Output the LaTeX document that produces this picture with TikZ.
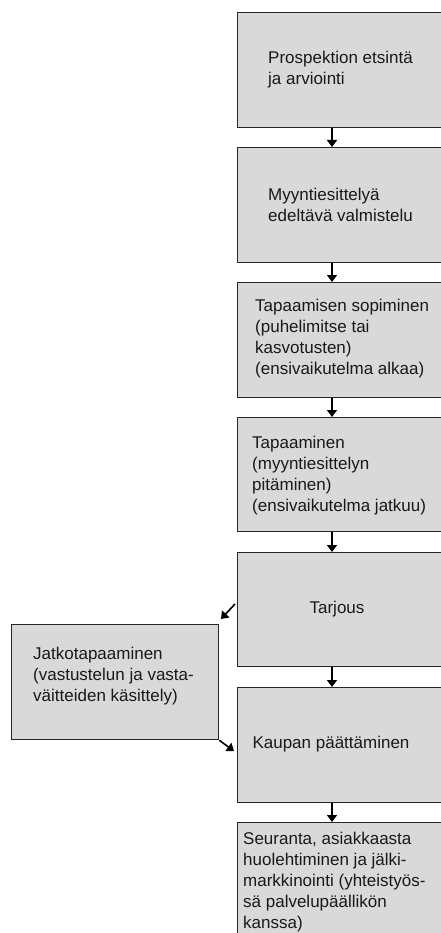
\documentclass[tikz,border=0pt]{standalone}
\usepackage{fontspec}
\setmainfont{Liberation Sans}
\usetikzlibrary{arrows.meta}
\definecolor{boxgray}{HTML}{D9D9D9}
\begin{document}
\begin{tikzpicture}[x=1pt,y=-1pt,
  box/.style={draw=black!85,line width=1.3pt,fill=boxgray,rectangle,inner sep=0pt,anchor=north west},
  txt/.style={align=left,anchor=west,inner sep=0pt,text=black!90,font=\fontsize{17}{21}\selectfont},
  arr/.style={line width=1.6pt,-{Triangle[length=7pt,width=10pt]}}]
\useasboundingbox (0,0) rectangle (441,933);
% boxes
\node[box,minimum width=230pt,minimum height=115pt] (b1) at (237,12) {};
\node[box,minimum width=230pt,minimum height=115pt] (b2) at (237,147) {};
\node[box,minimum width=230pt,minimum height=115pt] (b3) at (237,282) {};
\node[box,minimum width=230pt,minimum height=114pt] (b4) at (237,417) {};
\node[box,minimum width=230pt,minimum height=114pt] (b5) at (237,552) {};
\node[box,minimum width=230pt,minimum height=115pt] (b6) at (237,687) {};
\node[box,minimum width=230pt,minimum height=130pt] (b7) at (237,822) {};
\node[box,minimum width=207pt,minimum height=115pt] (bl) at (11,624) {};
% texts
\node[txt] (t1) at (268,70) {Prospektion etsintä\\ja arviointi};
\node[txt] (t2) at (268,205) {Myyntiesittelyä\\edeltävä valmistelu};
\node[txt] (t3) at (255,339) {Tapaamisen sopiminen\\(puhelimitse tai\\kasvotusten)\\(ensivaikutelma alkaa)};
\node[txt] (t4) at (252,476) {Tapaaminen\\(myyntiesittelyn\\pitäminen)\\(ensivaikutelma jatkuu)};
\node[txt,anchor=center] (t5) at (337,609) {Tarjous};
\node[txt,anchor=center] (t6) at (331,744) {Kaupan päättäminen};
\node[txt] (t7) at (243,882) {Seuranta, asiakkaasta\\huolehtiminen ja jälki-\\markkinointi (yhteistyös-\\sä palvelupäällikön\\kanssa)};
\node[txt] (tl) at (33,676) {Jatkotapaaminen\\(vastustelun ja vasta-\\väitteiden käsittely)};
% arrows
\coordinate (ax) at (332,0);
\draw[arr] (b1.south -| ax) -- (b2.north -| ax);
\draw[arr] (b2.south -| ax) -- (b3.north -| ax);
\draw[arr] (b3.south -| ax) -- (b4.north -| ax);
\draw[arr] (b4.south -| ax) -- (b5.north -| ax);
\draw[arr] (b5.south -| ax) -- (b6.north -| ax);
\draw[arr] (b6.south -| ax) -- (b7.north -| ax);
\coordinate (s1) at (235,604);
\coordinate (e1) at (221,619);
\draw[arr] (s1) -- (e1);
\coordinate (e2) at (234,751);
\draw[arr] (bl.south east) -- (e2);
\end{tikzpicture}
\end{document}
